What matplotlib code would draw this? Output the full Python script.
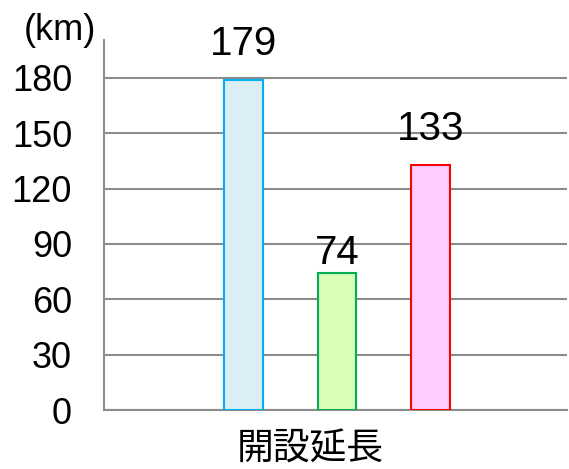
import matplotlib
matplotlib.use("Agg")
import matplotlib.pyplot as plt

category = "開設延長"
values = [179, 74, 133]
face_colors = ["#DAEEF3", "#D9FFB9", "#FFCCFF"]
edge_colors = ["#00B0F0", "#00B050", "#FF0000"]
y_ticks = [0, 30, 60, 90, 120, 150, 180]
unit_label = "(km)"

plt.rcParams["font.family"] = ["Liberation Sans", "Noto Sans CJK JP", "DejaVu Sans"]

fig = plt.figure(figsize=(5.69, 4.69), dpi=100)
ax = fig.add_axes([104 / 569, 1 - 410 / 469, 463 / 569, 370 / 469])

positions = [-1, 0, 1]
ax.bar(positions, values, width=0.41, color=face_colors,
       edgecolor=edge_colors, linewidth=1.5, zorder=3)

# data labels sit above each bar (offset in points)
label_offsets = [12, 1, 12]
for x, v, off in zip(positions, values, label_offsets):
    ax.annotate(f"{v}", (x, v), xytext=(0, off), textcoords="offset points",
                ha="center", va="bottom", fontsize=29, zorder=4)

ax.set_ylim(0, 200.5)
ax.set_xlim(-2.49, 2.46)
ax.set_yticks(y_ticks)
ax.set_yticklabels([str(t) for t in y_ticks], fontsize=26)
ax.tick_params(axis="y", length=0, pad=23)
ax.set_xticks([-0.28])
ax.set_xticklabels([category], fontsize=26.5, family=["Noto Sans CJK JP"])
ax.tick_params(axis="x", length=0, pad=14)

ax.yaxis.grid(True, color="#8C8C8C", linewidth=1.5, zorder=0)
for side in ["top", "right"]:
    ax.spines[side].set_visible(False)
for side in ["left", "bottom"]:
    ax.spines[side].set_color("#8C8C8C")
    ax.spines[side].set_linewidth(1.5)

fig.text(24 / 569, 1 - 31 / 469, unit_label, fontsize=26, ha="left", va="center")

fig.savefig("out.png", dpi=100)
